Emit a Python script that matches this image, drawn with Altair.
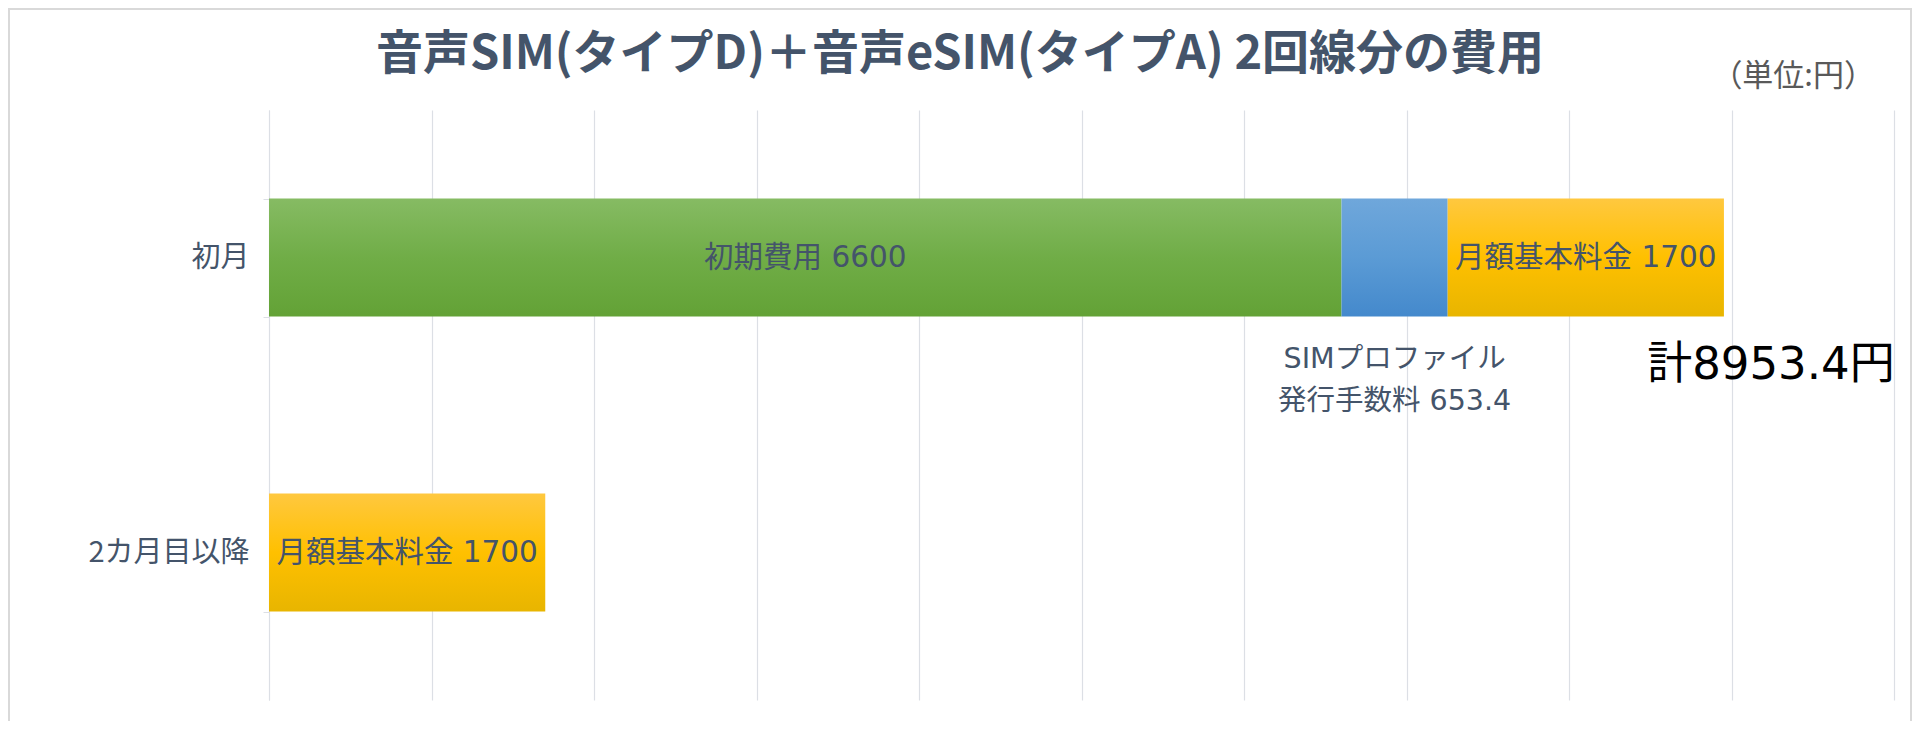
import altair as alt
import pandas as pd

# ---- data ----
categories = ["初月", "2カ月目以降"]
seg_category = ["初月", "初月", "初月", "2カ月目以降"]
seg_name = ["初期費用", "SIMプロファイル\n発行手数料", "月額基本料金", "月額基本料金"]
seg_value = [6600, 653.4, 1700, 1700]
seg_order = [1, 2, 3, 1]
seg_kind = ["green", "blue", "yellow", "yellow"]
seg_label_inside = [True, False, True, True]

total_label = "計8953.4円"
unit_label = "（単位:円）"
title_text = "音声SIM(タイプD)＋音声eSIM(タイプA) 2回線分の費用"
x_ticks = list(range(0, 10001, 1000))

df = pd.DataFrame({
    "cat": seg_category,
    "seg": seg_name,
    "value": seg_value,
    "order": seg_order,
    "kind": seg_kind,
    "inside": seg_label_inside,
})

TEXT = "#44546A"
GRID = "#DCDFE5"
FONT = "Noto Sans CJK JP"
FONT_NUM = "DejaVu Sans, Noto Sans CJK JP"

gradients = {
    "green": [("#86BB63", 0), ("#70AD47", 0.5), ("#63A236", 1)],
    "blue": [("#6FA7DB", 0), ("#5B9BD5", 0.5), ("#4489CC", 1)],
    "yellow": [("#FFC83F", 0), ("#FFC000", 0.5), ("#E8B500", 1)],
}

def grad(kind):
    return alt.Gradient(
        gradient="linear",
        stops=[alt.GradientStop(color=c, offset=o) for c, o in gradients[kind]],
        x1=0, x2=0, y1=0, y2=1,
    )

x_scale = alt.Scale(domain=[0, 10000], nice=False, zero=True)
y_scale = alt.Scale(domain=categories, paddingInner=0.6, paddingOuter=0.3)

base = alt.Chart(df).transform_stack(
    stack="value", groupby=["cat"], as_=["x0", "x1"], sort=[alt.SortField("order")]
).transform_calculate(
    mid="(datum.x0 + datum.x1) / 2",
    label="datum.seg + ' ' + datum.value",
)

y_enc = alt.Y(
    "cat:N", scale=y_scale, title=None,
    axis=alt.Axis(
        labelFont=FONT, labelFontSize=29, labelColor=TEXT, labelPadding=14,
        tickBand="extent", tickSize=6, tickColor=GRID, domainColor=GRID,
        domainWidth=1, labelAlign="right",
    ),
)

x_enc = alt.X(
    "x0:Q", scale=x_scale, title=None,
    axis=alt.Axis(values=x_ticks, labels=False, ticks=False, domain=False,
                  grid=True, gridColor=GRID, gridWidth=1.2),
)

layers = []
for kind in ["green", "blue", "yellow"]:
    layers.append(
        base.transform_filter(alt.datum.kind == kind)
        .mark_bar(fill=grad(kind))
        .encode(x=x_enc, x2="x1:Q", y=y_enc)
    )

inside_text = base.transform_filter(alt.datum.inside == True).mark_text(
    font=FONT_NUM, fontSize=29.5, color=TEXT, align="center", baseline="middle"
).encode(x=alt.X("mid:Q", scale=x_scale), y=alt.Y("cat:N", scale=y_scale), text="label:N")

below_text = base.transform_filter(alt.datum.inside == False).mark_text(
    font=FONT_NUM, fontSize=28.5, color=TEXT, align="center", baseline="middle",
    lineBreak="\n", lineHeight=42, dy=101,
).encode(x=alt.X("mid:Q", scale=x_scale), y=alt.Y("cat:N", scale=y_scale), text="label:N")

total_df = pd.DataFrame({"cat": [categories[0]], "total": [sum(seg_value[:3])], "t": [total_label]})
total_text = alt.Chart(total_df).mark_text(
    font=FONT_NUM, fontSize=45, color="#000000", align="center", baseline="middle", dx=47, dy=107,
).encode(x=alt.X("total:Q", scale=x_scale), y=alt.Y("cat:N", scale=y_scale), text="t:N")

unit_df = pd.DataFrame({"t": [unit_label]})
unit_text = alt.Chart(unit_df).mark_text(
    font=FONT, fontSize=31, color="#595959", align="right", baseline="middle",
).encode(x=alt.value(1606), y=alt.value(-33), text="t:N")

title_df = pd.DataFrame({"t": [title_text]})
title_mark = alt.Chart(title_df).mark_text(
    font=FONT, fontSize=47, fontWeight="bold", color=TEXT, align="center", baseline="middle",
).encode(x=alt.value(691), y=alt.value(-55), text="t:N")

frame = alt.Chart(unit_df).mark_rect(
    fill="transparent", stroke="#D9D9D9", strokeWidth=2
).encode(x=alt.value(-260), x2=alt.value(1642), y=alt.value(-101), y2=alt.value(612))

chart = alt.layer(frame, *layers, inside_text, below_text, total_text, unit_text, title_mark).properties(
    width=1625, height=590,
    background="white",
    autosize=alt.AutoSizeParams(type="none"),
    padding={"left": 261, "top": 102, "right": 18, "bottom": 21},
).configure_view(stroke=None)

chart.save("out.html", embed_options={"renderer": "svg", "actions": False})
